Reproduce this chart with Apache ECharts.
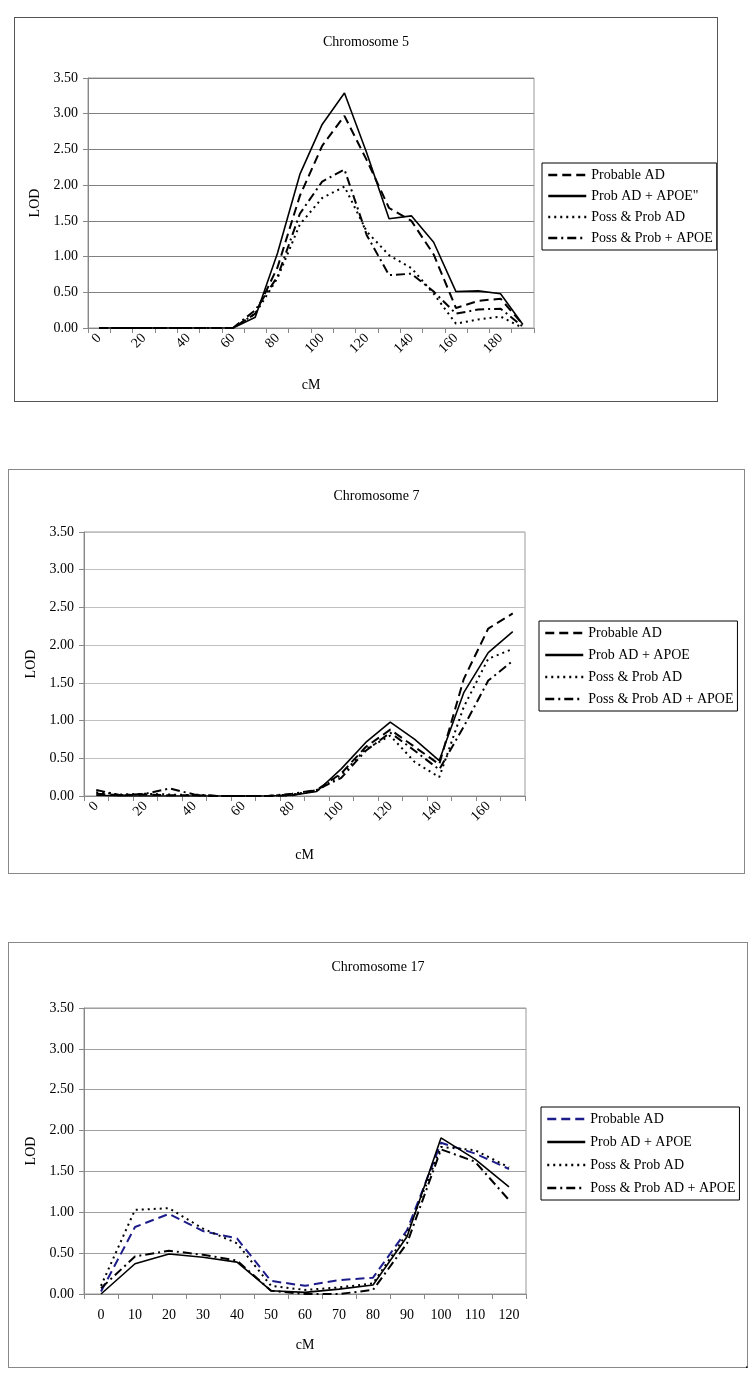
<!DOCTYPE html>
<html>
<head>
<meta charset="utf-8">
<script src="https://cdn.jsdelivr.net/npm/echarts@6/dist/echarts.min.js"></script>
<style>
body { margin: 0; background: #fff; }
.panel { position: absolute; background: #fff; }
.dot { position: absolute; left: 745px; top: 1356px; font: 14px 'Liberation Serif'; }
</style>
</head>
<body>
<div id="chr5" class="panel" style="left:14px;top:17px;width:702px;height:383px;border:1px solid #555;"></div>
<div id="chr7" class="panel" style="left:8px;top:469px;width:735px;height:403px;border:1px solid #888;"></div>
<div id="chr17" class="panel" style="left:8px;top:942px;width:738px;height:424px;border:1px solid #888;"></div>
<span class="dot">.</span>

<script>
// cM positions and LOD scores
const chr5Cm = [0, 10, 20, 30, 40, 50, 60, 70, 80, 90, 100, 110, 120, 130, 140, 150, 160, 170, 180, 190]
const chr5Probable = [0, 0, 0, 0, 0, 0, 0, 0.2, 0.85, 1.85, 2.55, 2.97, 2.35, 1.68, 1.5, 1.03, 0.28, 0.38, 0.41, 0.05]
const chr5ProbApoe = [0, 0, 0, 0, 0, 0, 0, 0.15, 1.05, 2.15, 2.85, 3.29, 2.45, 1.53, 1.57, 1.2, 0.51, 0.52, 0.48, 0.05]
const chr5Poss = [0, 0, 0, 0, 0, 0, 0, 0.2, 0.7, 1.45, 1.82, 1.98, 1.35, 1.02, 0.84, 0.48, 0.06, 0.12, 0.16, 0]
const chr5PossApoe = [0, 0, 0, 0, 0, 0, 0, 0.25, 0.72, 1.6, 2.05, 2.22, 1.3, 0.74, 0.76, 0.51, 0.2, 0.26, 0.27, 0.02]

const chr7Cm = [0, 10, 20, 30, 40, 50, 60, 70, 80, 90, 100, 110, 120, 130, 140, 150, 160, 170]
const chr7Probable = [0.03, 0.01, 0.02, 0.01, 0.01, 0, 0, 0, 0.01, 0.08, 0.3, 0.65, 0.88, 0.65, 0.42, 1.55, 2.22, 2.42]
const chr7ProbApoe = [0.01, 0, 0, 0, 0, 0, 0, 0, 0.01, 0.06, 0.36, 0.71, 0.98, 0.75, 0.47, 1.37, 1.9, 2.18]
const chr7Poss = [0.05, 0.02, 0.03, 0.02, 0.01, 0, 0, 0, 0.02, 0.07, 0.28, 0.62, 0.8, 0.45, 0.25, 1.18, 1.82, 1.95]
const chr7PossApoe = [0.08, 0.01, 0.03, 0.1, 0.02, 0, 0, 0, 0.03, 0.08, 0.24, 0.6, 0.84, 0.6, 0.35, 0.92, 1.53, 1.79]

const chr17Cm = [0, 10, 20, 30, 40, 50, 60, 70, 80, 90, 100, 110, 120]
const chr17Probable = [0.03, 0.82, 0.98, 0.77, 0.68, 0.16, 0.1, 0.17, 0.2, 0.78, 1.85, 1.72, 1.53]
const chr17ProbApoe = [0, 0.37, 0.49, 0.45, 0.39, 0.04, 0.02, 0.06, 0.11, 0.7, 1.91, 1.65, 1.31]
const chr17Poss = [0.1, 1.03, 1.05, 0.8, 0.62, 0.1, 0.05, 0.08, 0.13, 0.74, 1.8, 1.76, 1.55]
const chr17PossApoe = [0.07, 0.46, 0.53, 0.48, 0.41, 0.04, 0, 0, 0.05, 0.62, 1.77, 1.62, 1.15]

const font = 'Liberation Serif'
const dashLong = [9, 5]
const dotted = [2, 4]
const dashDot = [9, 4, 2, 4]

function makeChart(id, cfg) {
  const chart = echarts.init(document.getElementById(id))
  const series = cfg.lines.map(l => ({
    name: l.name,
    type: 'line',
    data: l.data,
    symbol: 'none',
    smooth: false,
    color: l.color || '#000',
    itemStyle: { color: l.color || '#000' },
    lineStyle: { color: l.color || '#000', width: l.width || 2, type: l.type }
  }))
  const option = {
    animation: false,
    title: {
      text: cfg.title,
      left: 'center',
      top: cfg.titleTop,
      textStyle: { fontFamily: font, fontSize: 14, fontWeight: 'normal', color: '#000' }
    },
    legend: {
      orient: 'vertical',
      left: cfg.legend.left,
      top: cfg.legend.top,
      itemWidth: 38,
      itemHeight: 12,
      itemGap: cfg.legend.gap,
      padding: [5, 4, 5, 5],
      borderColor: '#000',
      borderWidth: 1,
      itemStyle: { opacity: 0 },
      lineStyle: { width: 2.5 },
      textStyle: { fontFamily: font, fontSize: 14, color: '#000' },
      data: cfg.lines.map(l => l.name)
    },
    grid: {
      left: cfg.grid.left,
      top: cfg.grid.top,
      width: cfg.grid.width,
      height: cfg.grid.height,
      show: true,
      borderColor: '#999',
      borderWidth: 1
    },
    xAxis: {
      type: 'category',
      data: cfg.cm,
      boundaryGap: true,
      name: 'cM',
      nameLocation: 'middle',
      nameGap: cfg.xNameGap,
      nameTextStyle: { fontFamily: font, fontSize: 14, color: '#000' },
      axisLine: { lineStyle: { color: '#888' } },
      axisTick: { show: true, interval: 0, length: 5, lineStyle: { color: '#888' } },
      axisLabel: {
        interval: cfg.labelInterval,
        rotate: cfg.rotate,
        margin: cfg.rotate ? 8 : 14,
        fontFamily: font,
        fontSize: 14,
        color: '#000'
      }
    },
    yAxis: {
      type: 'value',
      min: 0,
      max: 3.5,
      interval: 0.5,
      name: 'LOD',
      nameLocation: 'middle',
      nameGap: 46,
      nameRotate: 90,
      nameTextStyle: { fontFamily: font, fontSize: 14, color: '#000' },
      axisLine: { show: true, lineStyle: { color: '#888' } },
      axisTick: { show: true, length: 5, lineStyle: { color: '#888' } },
      splitLine: { lineStyle: { color: cfg.gridColor, width: 1 } },
      axisLabel: {
        formatter: v => v.toFixed(2),
        margin: 10,
        fontFamily: font,
        fontSize: 14,
        color: '#000'
      }
    },
    series: series
  }
  chart.setOption(option)
}

makeChart('chr5', {
  title: 'Chromosome 5',
  titleTop: 12,
  cm: chr5Cm,
  grid: { left: 73, top: 60, width: 446, height: 250 },
  legend: { left: 527, top: 145, gap: 7 },
  gridColor: '#808080',
  labelInterval: 1,
  rotate: 45,
  xNameGap: 50,
  lines: [
    { name: 'Probable AD', data: chr5Probable, type: dashLong },
    { name: 'Prob AD + APOE"', data: chr5ProbApoe, type: 'solid', width: 1.6 },
    { name: 'Poss & Prob AD', data: chr5Poss, type: dotted },
    { name: 'Poss & Prob + APOE', data: chr5PossApoe, type: dashDot }
  ]
})

makeChart('chr7', {
  title: 'Chromosome 7',
  titleTop: 14,
  cm: chr7Cm,
  grid: { left: 75, top: 62, width: 441, height: 264 },
  legend: { left: 530, top: 151, gap: 8 },
  gridColor: '#c0c0c0',
  labelInterval: 1,
  rotate: 45,
  xNameGap: 52,
  lines: [
    { name: 'Probable AD', data: chr7Probable, type: dashLong },
    { name: 'Prob AD + APOE', data: chr7ProbApoe, type: 'solid', width: 1.6 },
    { name: 'Poss & Prob AD', data: chr7Poss, type: dotted },
    { name: 'Poss & Prob AD + APOE', data: chr7PossApoe, type: dashDot }
  ]
})

makeChart('chr17', {
  title: 'Chromosome 17',
  titleTop: 12,
  cm: chr17Cm,
  grid: { left: 75, top: 65, width: 442, height: 286 },
  legend: { left: 532, top: 164, gap: 9 },
  gridColor: '#a0a0a0',
  labelInterval: 0,
  rotate: 0,
  xNameGap: 44,
  lines: [
    { name: 'Probable AD', data: chr17Probable, type: dashLong, color: '#1c1c8a' },
    { name: 'Prob AD + APOE', data: chr17ProbApoe, type: 'solid', width: 1.6 },
    { name: 'Poss & Prob AD', data: chr17Poss, type: dotted },
    { name: 'Poss & Prob AD + APOE', data: chr17PossApoe, type: dashDot }
  ]
})
</script>
</body>
</html>
